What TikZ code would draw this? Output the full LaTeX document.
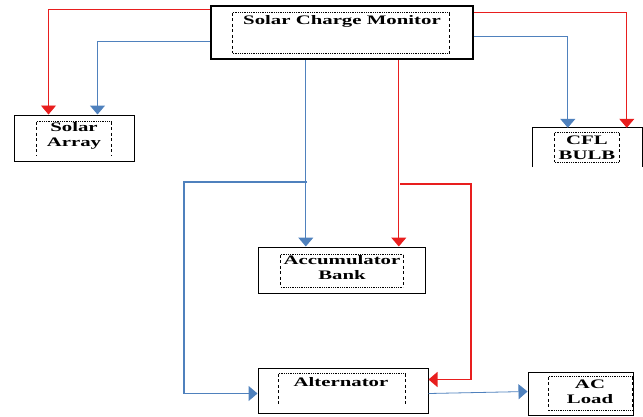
\documentclass[tikz,border=0pt]{standalone}
\usepackage{fontspec}
\newfontfamily\boxfont[FakeStretch=1.6]{Liberation Serif}
\usetikzlibrary{arrows.meta}
\usetikzlibrary{calc}

\definecolor{wirered}{RGB}{232,30,30}
\definecolor{wireblue}{RGB}{79,129,189}

\begin{document}
\begin{tikzpicture}[x=1pt, y=-1pt,
    block/.style={draw=black, line width=1pt, inner sep=0pt},
    frame/.style={inner sep=0pt},
    label/.style={font=\boxfont\bfseries\fontsize{13}{15}\selectfont, align=center, inner sep=0pt},
    dotrule/.style={black, line width=0.8pt, dash pattern=on 0.8pt off 1pt},
    dashrule/.style={black, line width=0.9pt, dash pattern=on 3pt off 2.5pt},
    redwire/.style={draw=wirered, line width=1.3pt, -{Triangle[width=15pt,length=9pt]}},
    bluewire/.style={draw=wireblue, line width=1.3pt, -{Triangle[width=15pt,length=9pt]}}
]
    \useasboundingbox (0,0) rectangle (643,416);

    % Solar charge monitor
    \node[block, line width=2.4pt, minimum width=262pt, minimum height=53pt] (scm) at (342,32.5) {};
    \node[frame, minimum width=216pt, minimum height=40pt] (scmin) at (341,33) {};
    \draw[dotrule] (scmin.north west) -- (scmin.north east) (scmin.south west) -- (scmin.south east);
    \draw[dashrule] (scmin.north west) -- (scmin.south west) (scmin.north east) -- (scmin.south east);
    \node[label] (scmtext) at (342,21) {Solar Charge Monitor};

    % Solar array
    \node[block, minimum width=120pt, minimum height=46pt] (solar) at (74,138) {};
    \node[frame, minimum width=74pt, minimum height=33pt] (solarin) at (74,138.5) {};
    \draw[dotrule] (solarin.north west) -- (solarin.north east);
    \draw[dashrule] (solarin.north west) -- (solarin.south west) (solarin.north east) -- (solarin.south east);
    \node[label] (solartext) at (74,136) {Solar\\Array};

    % CFL bulb (open at the bottom)
    \node[frame, minimum width=109pt, minimum height=39pt] (cfl) at (587.5,147.5) {};
    \draw[black, line width=1pt] (cfl.south west) -- (cfl.north west) -- (cfl.north east) -- (cfl.south east);
    \node[frame, minimum width=64pt, minimum height=29pt] (cflin) at (587,147.5) {};
    \draw[dotrule] (cflin.north west) -- (cflin.north east) (cflin.south west) -- (cflin.south east);
    \draw[dashrule] (cflin.north west) -- (cflin.south west) (cflin.north east) -- (cflin.south east);
    \node[label] (cfltext) at (587,148) {CFL\\BULB};

    % Accumulator bank
    \node[block, minimum width=167pt, minimum height=46pt] (accu) at (341.5,270) {};
    \node[frame, minimum width=122pt, minimum height=32pt] (accuin) at (342,271) {};
    \draw[dotrule] (accuin.north west) -- (accuin.north east) (accuin.south west) -- (accuin.south east);
    \draw[dashrule] (accuin.north west) -- (accuin.south west) (accuin.north east) -- (accuin.south east);
    \node[label] (accutext) at (342,268) {Accumulator\\Bank};

    % Alternator
    \node[block, minimum width=170pt, minimum height=45pt] (alt) at (343,390.5) {};
    \node[frame, minimum width=126pt, minimum height=31pt] (altin) at (342,389.5) {};
    \draw[dotrule] (altin.north west) -- (altin.north east);
    \draw[dashrule] (altin.north west) -- (altin.south west) (altin.north east) -- (altin.south east);
    \node[label] (alttext) at (341,382) {Alternator};

    % AC load
    \node[block, minimum width=105pt, minimum height=43pt] (acload) at (580.5,393.5) {};
    \node[frame, minimum width=83pt, minimum height=33pt] (acloadin) at (590.5,393.5) {};
    \draw[dotrule] (acloadin.north west) -- (acloadin.north east) (acloadin.south west) -- (acloadin.south east);
    \draw[dashrule] (acloadin.north west) -- (acloadin.south west) (acloadin.north east) -- (acloadin.south east);
    \node[label] (acloadtext) at (590,392) {AC\\Load};

    % Feeds to solar array and bulb
    \coordinate (R1) at ($(scm.north west)+(0,5)$);
    \coordinate (B1) at ($(scm.north west)+(0,37)$);
    \coordinate (R2) at ($(scm.north east)+(0,8)$);
    \coordinate (B2) at ($(scm.north east)+(0,32)$);
    \draw[redwire, line width=0.8pt] (R1) -| ($(solar.north west)+(35,0)$);
    \draw[bluewire] (B1) -| ($(solar.north west)+(84,0)$);
    \draw[redwire, line width=0.8pt] (R2) -| ($(cfl.north west)+(94,0)$);
    \draw[bluewire] (B2) -| ($(cfl.north west)+(35,0)$);

    % Feeds to accumulator bank
    \coordinate (B3) at ($(scm.south west)+(96,0)$);
    \coordinate (R3) at ($(scm.south west)+(189,0)$);
    \draw[bluewire] (B3) -- (B3 |- accu.north);
    \draw[redwire] (R3) -- (R3 |- accu.north);

    % Feeds to alternator
    \coordinate (B4) at (307,182);
    \coordinate (R4) at (400,184);
    \draw[bluewire] (B4) -- (184,182) |- ($(alt.north west)+(0,26)$);
    \draw[redwire] (R4) -- (471,184) |- ($(alt.north east)+(0,12)$);

    % Alternator to load
    \draw[bluewire, line width=0.8pt] ($(alt.north east)+(0,26)$) -- ($(acload.north west)+(0,20)$);
\end{tikzpicture}
\end{document}
